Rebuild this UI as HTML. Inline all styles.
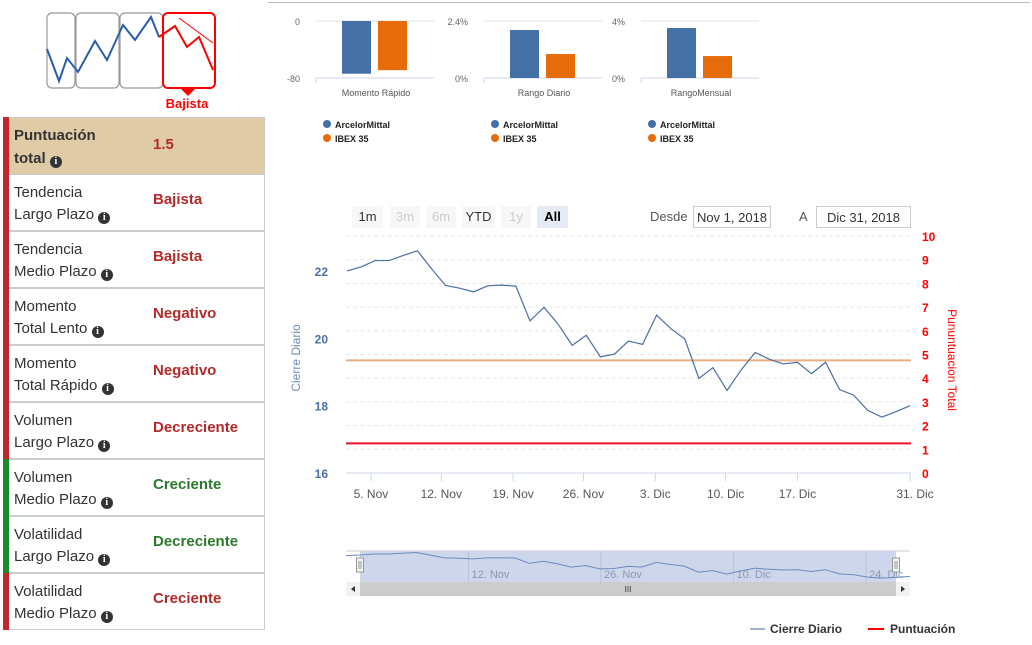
<!DOCTYPE html>
<html><head><meta charset="utf-8">
<style>
body{margin:0;width:1032px;height:645px;background:#fff;font-family:"Liberation Sans",sans-serif;overflow:hidden;position:relative}
.row{position:absolute;left:3px;width:262px;height:56px;border:1px solid #ccc;border-left:none;box-sizing:border-box;background:#fff}
.row .bar{position:absolute;left:0;top:-1px;bottom:-1px;width:6px;background:#c0282d}
.row .lbl{position:absolute;left:11px;top:7px;font-size:15px;color:#333;line-height:22px}
.row .val{position:absolute;left:150px;top:16px;font-size:15px;font-weight:bold;color:#b22a2a}
.info{display:inline-block;width:12px;height:12px;border-radius:50%;background:#333;color:#fff;font-size:10px;line-height:12px;text-align:center;font-weight:bold;font-family:"Liberation Serif",serif;vertical-align:-1px}
.btn{position:absolute;top:206px;height:22px;font-size:13px;line-height:22px;text-align:center;background:#f7f7f7;color:#333}
.inp{position:absolute;top:206px;height:22px;border:1px solid #ccc;font-size:13px;line-height:22px;text-align:center;color:#333;box-sizing:border-box}
</style></head><body>
<div style="position:absolute;left:268px;top:2px;width:762px;height:1px;background:#bbb"></div>

<svg style="position:absolute;left:0;top:0" width="270" height="115">
<rect x="47" y="13" width="28" height="75" rx="5" fill="none" stroke="#999" stroke-width="1.2"/>
<rect x="76" y="13" width="43" height="75" rx="5" fill="none" stroke="#999" stroke-width="1.2"/>
<rect x="120" y="13" width="43" height="75" rx="5" fill="none" stroke="#999" stroke-width="1.2"/>
<polyline points="47,49 59,81 67,58 78,72 95,41 107,60 123,25 135,40 151,17 159,37" fill="none" stroke="#2a5ea8" stroke-width="2"/>
<rect x="163" y="13" width="52" height="75" rx="5" fill="none" stroke="#f00" stroke-width="2"/>
<path d="M180,88 L188,96 L196,88Z" fill="#f00"/>
<polyline points="159,37 175,26 187,47 199,37 213,70" fill="none" stroke="#f00" stroke-width="2"/>
<line x1="179" y1="18" x2="213" y2="43" stroke="#f00" stroke-width="1"/>
<text x="187" y="108" font-size="13" font-weight="bold" fill="#f00" text-anchor="middle" font-family="Liberation Sans">Bajista</text>
</svg>

<div class="row" style="top:117px;height:58px;background:#dfcba6"><div class="bar"></div><div class="lbl" style="top:6px;font-weight:bold;line-height:23px">Puntuación<br>total <span class="info">i</span></div><div class="val" style="top:18px">1.5</div></div>
<div id="rows"></div>

<svg id="bars" style="position:absolute;left:0;top:0" width="1032" height="150"></svg>

<div class="btn" style="left:352px;width:31px">1m</div>
<div class="btn" style="left:390px;width:30px;color:#ccc">3m</div>
<div class="btn" style="left:426px;width:30px;color:#ccc">6m</div>
<div class="btn" style="left:462px;width:33px">YTD</div>
<div class="btn" style="left:501px;width:30px;color:#ccc">1y</div>
<div class="btn" style="left:537px;width:31px;background:#e6ebf5;font-weight:bold;color:#000">All</div>
<div style="position:absolute;left:650px;top:209px;font-size:13px;color:#555">Desde</div>
<div class="inp" style="left:693px;width:78px">Nov 1, 2018</div>
<div style="position:absolute;left:799px;top:209px;font-size:13px;color:#555">A</div>
<div class="inp" style="left:816px;width:95px">Dic 31, 2018</div>

<svg id="main" style="position:absolute;left:0;top:0" width="1032" height="645"></svg>

<script>
const NS='http://www.w3.org/2000/svg';
function mk(p,tag,a,t){const e=document.createElementNS(NS,tag);for(const k in a)e.setAttribute(k,a[k]);if(t!==undefined)e.textContent=t;p.appendChild(e);return e;}

// ---- table rows ----
const rowLabels=[["Tendencia","Largo Plazo"],["Tendencia","Medio Plazo"],["Momento","Total Lento"],["Momento","Total Rápido"],["Volumen","Largo Plazo"],["Volumen","Medio Plazo"],["Volatilidad","Largo Plazo"],["Volatilidad","Medio Plazo"]];
const rowValues=["Bajista","Bajista","Negativo","Negativo","Decreciente","Creciente","Decreciente","Creciente"];
const rowGood=[false,false,false,false,false,true,true,false];
const rowsEl=document.getElementById('rows');
rowLabels.forEach((l,i)=>{
  const r=document.createElement('div');r.className='row';r.style.top=(174+57*i)+'px';r.style.height='57px';
  
  
  const c=rowGood[i]?'#1a8a2a':'#c0282d';
  r.innerHTML='<div class="bar" style="background:'+c+'"></div><div class="lbl">'+l[0]+'<br>'+l[1]+' <span class="info">i</span></div><div class="val" style="color:'+(rowGood[i]?'#2a7a2a':'#b22a2a')+'">'+rowValues[i]+'</div>';
  rowsEl.appendChild(r);
});

// ---- small bar charts ----
const barCats=["Momento Rápido","Rango Diario","RangoMensual"];
const barMittal=[-74,2.02,3.51];
const barIbex=[-69,1.01,1.54];
const barMax=[0,2.4,4];
const barMin=[-80,0,0];
const barTickTop=["0","2.4%","4%"];
const barTickBot=["-80","0%","0%"];
const bs=document.getElementById('bars');
const chartX=[316,484,641];
barCats.forEach((c,i)=>{
  const x0=chartX[i],w=118,top=21,bot=78;
  const y=v=>top+(barMax[i]-v)/(barMax[i]-barMin[i])*(bot-top);
  mk(bs,'line',{x1:x0,x2:x0+w,y1:top,y2:top,stroke:'#e0e0e0'});
  mk(bs,'line',{x1:x0,x2:x0+w,y1:bot,y2:bot,stroke:'#ccd6eb'});
  mk(bs,'line',{x1:x0,x2:x0,y1:bot,y2:bot+5,stroke:'#ccd6eb'});
  mk(bs,'text',{x:x0-16,y:top+4,'font-size':9,fill:'#666','text-anchor':'end'},barTickTop[i]);
  mk(bs,'text',{x:x0-16,y:bot+4,'font-size':9,fill:'#666','text-anchor':'end'},barTickBot[i]);
  const z=y(Math.max(barMin[i],Math.min(barMax[i],0)));
  [[barMittal[i],'#4470a5',26],[barIbex[i],'#e66b0a',62]].forEach(([v,col,off])=>{
    const yy=y(v);const b=mk(bs,'rect',{x:x0+off,y:Math.min(yy,z),width:29,height:Math.abs(yy-z),fill:col});
    
    
  });
  mk(bs,'text',{x:x0+w/2+1,y:96,'font-size':9,fill:'#555','text-anchor':'middle'},c);
  const lx=x0+6;
  mk(bs,'circle',{cx:lx+5,cy:124,r:4,fill:'#4470a5'});
  mk(bs,'text',{x:lx+13,y:128,'font-size':9,'font-weight':'bold',fill:'#222'},'ArcelorMittal');
  mk(bs,'circle',{cx:lx+5,cy:138,r:4,fill:'#e66b0a'});
  mk(bs,'text',{x:lx+13,y:142,'font-size':9,'font-weight':'bold',fill:'#222'},'IBEX 35');
});

// ---- main chart ----
const closes=[22.0,22.12,22.31,22.31,22.46,22.6,22.07,21.57,21.49,21.38,21.56,21.58,21.55,20.52,20.92,20.42,19.79,20.09,19.45,19.53,19.92,19.82,20.69,20.29,19.98,18.81,19.13,18.45,19.06,19.58,19.38,19.24,19.29,18.95,19.29,18.48,18.31,17.86,17.66,17.82,18.0];
const scoreLine=1.25, avgLine=4.75;
const leftTicks=[16,18,20,22];
const rightTicks=[0,1,2,3,4,5,6,7,8,9,10];
const xTickLabels=["5. Nov","12. Nov","19. Nov","26. Nov","3. Dic","10. Dic","17. Dic","31. Dic"];
const xTickIdx=[1.7,6.7,11.8,16.8,21.9,26.9,32.0,40];
const navLabels=["12. Nov","26. Nov","10. Dic","24. Dic"];
const navLabelIdx=[8.9,18.3,27.7,37.1];

const m=document.getElementById('main');
const PL=347,PR=910,PT=236,PB=473;
const X=i=>PL+i*(PR-PL)/(closes.length-1);
const YL=v=>PB-(v-16)*33.67;
const YR=v=>PB-v*(PB-PT)/10;
rightTicks.forEach(t=>{
  mk(m,'line',{x1:346,x2:911,y1:YR(t),y2:YR(t),stroke:t===0?'#ccd6eb':'#e6e6e6','stroke-dasharray':t===0?'':'4,3'});
  mk(m,'text',{x:922,y:YR(t)+5,'font-size':12,'font-weight':'bold',fill:'#f00'},t);
});
leftTicks.forEach(t=>mk(m,'text',{x:328,y:YL(t)+5,'font-size':12,'font-weight':'bold',fill:'#4a6fa5','text-anchor':'end'},t));
xTickLabels.forEach((l,i)=>{
  const x=X(xTickIdx[i]);
  mk(m,'line',{x1:x,x2:x,y1:PB,y2:PB+8,stroke:'#ccd6eb'});
  mk(m,'text',{x:x+(i===7?5:0),y:PB+25,'font-size':12,fill:'#555','text-anchor':'middle'},l);
});
mk(m,'text',{x:0,y:0,'font-size':12,fill:'#6d8bb5','text-anchor':'middle',transform:'translate(300,358) rotate(-90)'},'Cierre Diario');
mk(m,'text',{x:0,y:0,'font-size':12,fill:'#f00','text-anchor':'middle',transform:'translate(948,360) rotate(90)'},'Pununtuacion Total');
const al=mk(m,'line',{x1:346,x2:911,y1:YR(avgLine),y2:YR(avgLine),stroke:'#e8ae84','stroke-width':2});


const sl=mk(m,'line',{x1:346,x2:911,y1:YR(scoreLine),y2:YR(scoreLine),stroke:'#f0102a','stroke-width':2});


const cl=mk(m,'polyline',{points:closes.map((v,i)=>X(i)+','+YL(v)).join(' '),fill:'none',stroke:'#4a6fa5','stroke-width':1.2});



// navigator
const NL=346,NR=910,NT=551,NB=582;
const NX=i=>NL+i*(NR-NL)/(closes.length-1);
const NY=v=>NT+(22.7-v)/(22.7-17.5)*(NB-NT-4)+1;
mk(m,'line',{x1:NL,x2:NR,y1:NT,y2:NT,stroke:'#ccc'});
const nsel=mk(m,'rect',{x:360,y:NT,width:536,height:NB-NT,fill:'#cdd6ea'});


navLabels.forEach((l,i)=>{const x=NX(navLabelIdx[i]);
  mk(m,'line',{x1:x-3,x2:x-3,y1:NT,y2:NB,stroke:'#b8c3da'});
  mk(m,'text',{x:x,y:578,'font-size':11,fill:'#8a99b5'},l);});
mk(m,'polyline',{points:closes.map((v,i)=>NX(i)+','+NY(v)).join(' '),fill:'none',stroke:'#6d8bc0','stroke-width':1});
[360,896].forEach(x=>{const h=mk(m,'rect',{x:x-3.5,y:558,width:7,height:14,fill:'#f2f2f2',stroke:'#999'});
  
  
  mk(m,'line',{x1:x-1,x2:x-1,y1:561,y2:569,stroke:'#999'});mk(m,'line',{x1:x+1,x2:x+1,y1:561,y2:569,stroke:'#999'});});
mk(m,'rect',{x:346,y:582,width:564,height:14,fill:'#f2f2f2'});
const sb=mk(m,'rect',{x:360,y:582,width:536,height:14,fill:'#ccc'});


mk(m,'text',{x:628,y:592,'font-size':8,fill:'#333','text-anchor':'middle'},'III');
mk(m,'path',{d:'M355,586 L351,589 L355,592Z',fill:'#333'});
mk(m,'path',{d:'M901,586 L905,589 L901,592Z',fill:'#333'});

// legend
const lg1=mk(m,'line',{x1:750,x2:765,y1:629,y2:629,stroke:'#9fb0d0','stroke-width':2});


mk(m,'text',{x:770,y:633,'font-size':12,'font-weight':'bold',fill:'#333'},'Cierre Diario');
const lg2=mk(m,'line',{x1:868,x2:884,y1:629,y2:629,stroke:'#f00','stroke-width':2});


mk(m,'text',{x:890,y:633,'font-size':12,'font-weight':'bold',fill:'#333'},'Puntuación');
</script>
</body></html>
